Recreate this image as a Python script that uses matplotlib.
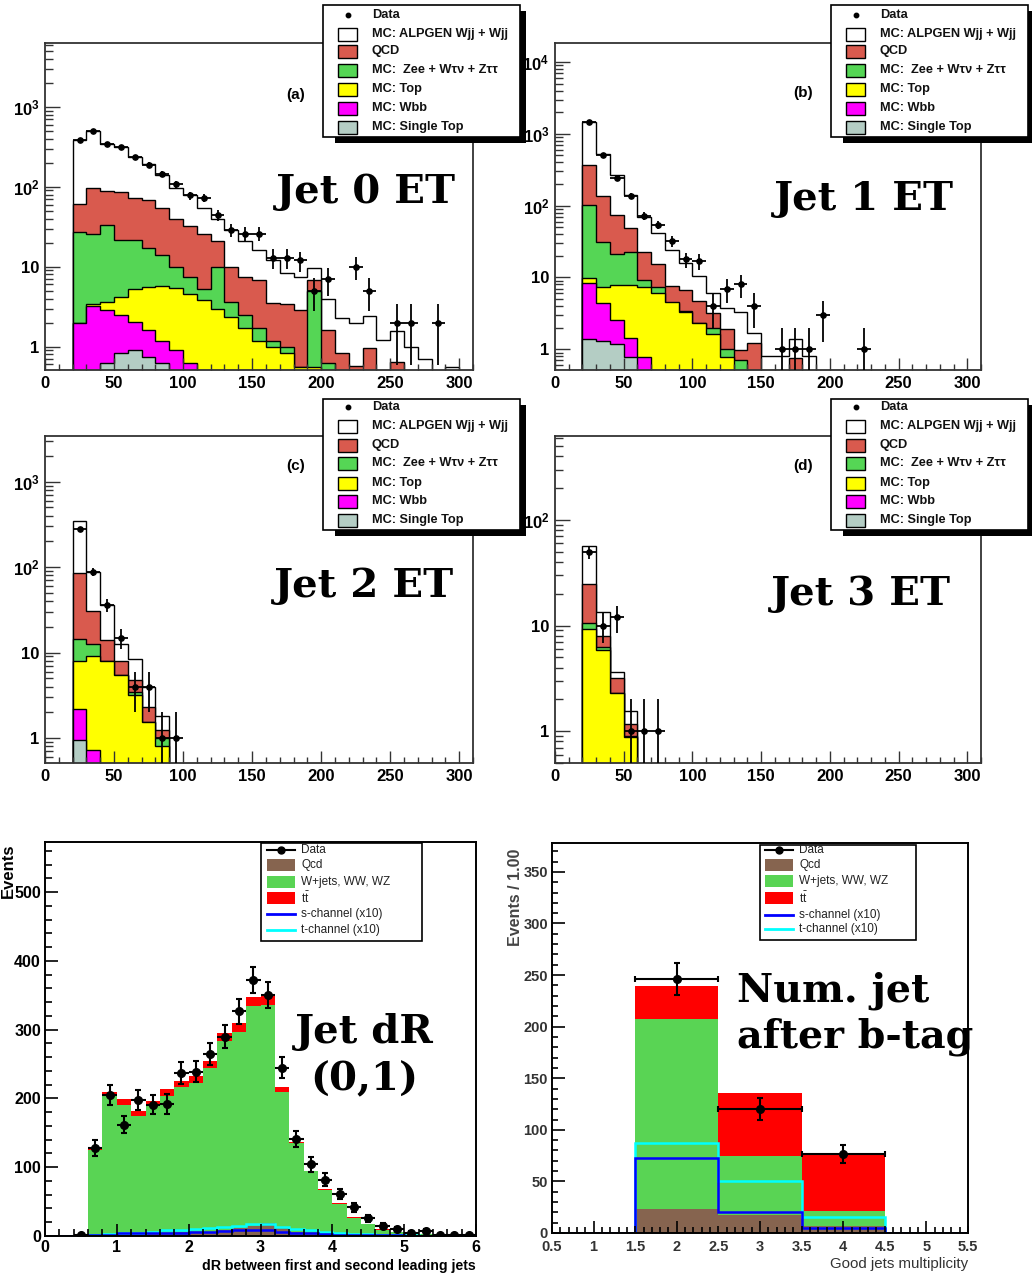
import numpy as np
import matplotlib
matplotlib.use("Agg")
import matplotlib.pyplot as plt
from matplotlib.patches import Rectangle
from matplotlib.ticker import FixedLocator, MultipleLocator, NullFormatter, FuncFormatter

plt.rcParams['font.family'] = ['Liberation Sans', 'DejaVu Sans']
plt.rcParams['mathtext.default'] = 'regular'
NARROW = ['Liberation Sans', 'DejaVu Sans']

# ------------------------------------------------------------------ data
et_edges = np.arange(20, 301, 10)          # Jet ET binning (GeV), 28 bins

# Panel (a) Jet 0 ET  -- stacked (cumulative) levels read per bin
a_alpgen = [383, 500, 340, 316, 237, 192, 140, 97, 79, 54, 40, 29, 21, 16, 12, 8.3, 7.5, 9.5,
            4.0, 2.3, 2.0, 2.4, 1.2, 1.55, 1.0, 0.71, 0, 0.56]
a_qcd = [61, 97, 88, 87, 72, 68, 54, 40, 32, 26, 21, 10, 7.5, 6.8, 3.5, 3.4, 2.9, 6.8,
         1.6, 0.83, 0.57, 0.95, 0, 0.65]
a_zll = [27.4, 26, 33, 21.5, 21.5, 17, 14, 10, 7.5, 5.2, 10, 3.65, 2.5, 1.7, 1.19, 0.98, 0.56, 4.9, 0.62]
a_top = [2.0, 3.4, 3.65, 4.2, 5.2, 5.5, 5.7, 5.35, 4.6, 3.8, 3.0, 2.37, 1.7, 1.19, 1.0, 0.83, 0.55, 0.56]
a_wbb = [2.0, 3.2, 2.9, 2.5, 2.05, 1.6, 1.19, 0.91, 0.63]
a_stop = [0, 0.4, 0.62, 0.84, 0.91, 0.75, 0.62]
a_data = [380, 500, 343, 316, 237, 190, 144, 107, 78, 73, 44, 29, 26, 26, 13, 13, 12, 5, 7, 0,
          10, 5, 0, 2, 2, 0, 2]

# Panel (b) Jet 1 ET
b_alpgen = [1466, 521, 266, 140, 70, 42, 24, 15.7, 10.5, 6.1, 3.7, 3.3, 1.7, 0.81, 0.81, 1.38, 0.81]
b_qcd = [370, 137, 74, 49, 22.8, 15.2, 7.6, 6.8, 4.7, 3.17, 1.9, 0.98, 1.21, 0, 0, 0.75]
b_zll = [102, 31.4, 21.2, 22.8, 9.2, 7.3, 4.46, 3.41, 2.3, 1.96, 1.0, 0.71]
b_top = [9.7, 7.4, 7.85, 7.85, 7.3, 6.1, 4.6, 3.34, 2.35, 1.62, 0.79]
b_wbb = [8.3, 4.36, 2.56, 1.42, 0.79]
b_stop = [1.38, 1.32, 1.19, 0.77]
b_data = [1450, 505, 239, 137, 72, 54, 32, 18, 17, 4, 7, 8, 4, 0, 1, 1, 1, 3, 0, 0, 1]

# Panel (c) Jet 2 ET
c_alpgen = [346, 88, 36, 12.7, 8.5, 4.0, 1.79]
c_qcd = [86, 30.5, 14.2, 7.9, 4.74, 2.3, 1.23]
c_zll = [14.6, 12.5, 8.0, 5.4, 3.46, 1.54, 1.0]
c_top = [8.0, 9.1, 7.9, 5.4, 3.16, 1.54, 0.8]
c_wbb = [2.2, 0.73]
c_stop = [0.96]
c_data = [276, 88, 36, 15, 4, 4, 1, 1]

# Panel (d) Jet 3 ET
d_alpgen = [57, 13.5, 3.65, 1.55]
d_qcd = [25, 7.95, 3.16, 1.16]
d_zll = [10.5, 6.3, 2.3, 0.9]
d_top = [9.2, 5.86, 2.28, 0.88]
d_wbb = [0]
d_stop = [0]
d_data = [50, 10, 12, 1, 1, 1]

top_labels = ["Data", "MC: ALPGEN Wjj + Wjj", "QCD", "MC:  Zee + W\u03c4\u03bd + Z\u03c4\u03c4",
              "MC: Top", "MC: Wbb", "MC: Single Top"]

# dR between first and second leading jets (0 - 6, 30 bins) -- stacked levels
dr_edges = np.round(np.arange(0, 6.01, 0.2), 2)
dr_ttbar = [0, 0, 0, 129, 210, 199, 182, 197, 214, 225, 233, 254, 295, 310, 347, 351, 217, 137,
            95, 68, 48, 27, 18, 9.7, 6.3, 3.9, 2.9, 1.5, 1, 0.5]
dr_wjets = [0, 0, 0, 125, 204, 191, 175, 189, 204, 217, 223, 244, 283, 297, 334, 336, 210, 135,
            94, 67, 47, 26, 17.5, 8.7, 5.8, 3.4, 2.5, 1.2, 0.8, 0.4]
dr_qcd = [0, 0, 0, 1, 2, 3, 3, 4, 5, 6, 5, 6, 8, 12, 14, 19, 11, 6, 4, 3, 2, 1, 1, 0.5, 0.5,
          0, 0, 0, 0, 0]
dr_schan = [0, 0, 0, 1, 2, 4, 4, 4, 5, 5, 6, 6, 7, 8, 9, 9, 6, 5, 4, 3, 2, 2, 1, 1, 1, 0.5,
            0, 0, 0, 0]
dr_tchan = [0, 0, 0, 2, 3, 5, 5, 6, 8, 9, 10, 11.5, 13, 15, 17, 17, 13, 10, 8, 6, 4, 3, 2.5,
            2, 1.5, 1, 0.5, 0, 0, 0]
dr_data = [0, 0, 1, 128, 205, 162, 198, 191, 192, 237, 239, 265, 290, 327, 372, 350, 245, 141,
           104, 82, 61, 42, 26, 15, 10, 5, 7, 1, 1, 1]

# Good jets multiplicity after b-tag
nj_edges = [0.5, 1.5, 2.5, 3.5, 4.5, 5.5]
nj_ttbar = [0, 239, 136, 78, 0]
nj_wjets = [0, 207, 75, 21, 0]
nj_qcd = [0, 23, 17.7, 7, 0]
nj_schan = [0, 72.6, 20.3, 4.8, 0]
nj_tchan = [0, 87.7, 50.6, 15.2, 0]
nj_data = [0, 246, 120, 77, 0]

bottom_labels = ["Data", "Qcd", "W+jets, WW, WZ", r"$t\bar{t}$", "s-channel (x10)", "t-channel (x10)"]

# ------------------------------------------------------------------ style
QCD_C, ZLL_C, TOP_C, WBB_C, STOP_C = '#d95a4e', '#55d655', '#ffff00', '#ff00ff', '#b4cdc4'
QCD_B, W_B, TT_B = '#86644f', '#59d454', '#ff0000'
FRAME = '#333333'

W, H = 1032, 1274
fig = plt.figure(figsize=(W / 100, H / 100), dpi=100)


def pax(x0, y0, x1, y1):
    return fig.add_axes([x0 / W, 1 - y1 / H, (x1 - x0) / W, (y1 - y0) / H])


def full(v, n=len(et_edges) - 1):
    out = np.zeros(n)
    out[:len(v)] = v
    return out


def log_label(v, pos):
    e = int(round(np.log10(v)))
    if e == 0:
        return '1'
    if e == 1:
        return '10'
    return r'$10^{%d}$' % e


def et_panel(rect, ylim, decades, layers, data):
    ax = pax(*rect)
    ax.set_yscale('log')
    cols = ['white', QCD_C, ZLL_C, TOP_C, WBB_C, STOP_C]
    for vals, col in zip(layers, cols):
        v = full(vals)
        v = np.where(v > 0, v, 1e-3)
        ax.stairs(v, et_edges, baseline=1e-3, fill=True, facecolor=col,
                  edgecolor='black', linewidth=1.0)
    d = full(data)
    cen = 0.5 * (et_edges[:-1] + et_edges[1:])
    m = d > 0
    err = np.sqrt(d[m])
    lo = d[m] - np.maximum(d[m] - err, 1e-3)
    ax.errorbar(cen[m], d[m], yerr=[lo, err], xerr=5, fmt='o', ms=3.8, color='black',
                elinewidth=1.3, capsize=0, zorder=5)
    ax.set_xlim(0, 310)
    ax.set_ylim(*ylim)
    ax.xaxis.set_major_locator(FixedLocator(np.arange(0, 301, 50)))
    ax.xaxis.set_minor_locator(MultipleLocator(10))
    ax.xaxis.set_major_formatter(FuncFormatter(lambda v, p: '%d' % v))
    ax.yaxis.set_major_locator(FixedLocator(decades))
    ax.yaxis.set_minor_locator(FixedLocator([m_ * 10.0 ** e for e in range(-1, 5) for m_ in range(2, 10)]))
    ax.yaxis.set_minor_formatter(NullFormatter())
    ax.yaxis.set_major_formatter(FuncFormatter(log_label))
    ax.tick_params(which='both', direction='in', top=False, right=False, color=FRAME, width=1.0)
    ax.tick_params(axis='x', which='major', length=9, pad=4)
    ax.tick_params(axis='x', which='minor', length=4)
    ax.tick_params(axis='y', which='major', length=11, pad=4)
    ax.tick_params(axis='y', which='minor', length=6)
    for lab in ax.get_xticklabels() + ax.get_yticklabels():
        lab.set_fontsize(12)
        lab.set_fontweight('bold')
    for s in ax.spines.values():
        s.set_color(FRAME)
        s.set_linewidth(1.3)
    return ax


et_panel((45, 43, 473, 370), (0.51, 6300), [1, 10, 100, 1000],
         [a_alpgen, a_qcd, a_zll, a_top, a_wbb, a_stop], a_data)
et_panel((555, 43, 981, 370), (0.515, 18400), [1, 10, 100, 1000, 10000],
         [b_alpgen, b_qcd, b_zll, b_top, b_wbb, b_stop], b_data)
et_panel((45, 436, 473, 763), (0.51, 3430), [1, 10, 100, 1000],
         [c_alpgen, c_qcd, c_zll, c_top, c_wbb, c_stop], c_data)
et_panel((555, 436, 981, 763), (0.5, 625), [1, 10, 100],
         [d_alpgen, d_qcd, d_zll, d_top, d_wbb, d_stop], d_data)


def stack_panel(ax, edges, tt, wj, qcd, sch, tch, data, xerr):
    ax.stairs(tt, edges, fill=True, color=TT_B, linewidth=0)
    ax.stairs(wj, edges, fill=True, color=W_B, linewidth=0)
    ax.stairs(qcd, edges, fill=True, color=QCD_B, linewidth=0)
    ax.stairs(tch, edges, color='#00ffff', linewidth=1.8)
    ax.stairs(sch, edges, color='#0000ff', linewidth=1.8)
    e = np.asarray(edges, float)
    cen = 0.5 * (e[:-1] + e[1:])
    d = np.asarray(data, float)
    m = d > 0
    ax.errorbar(cen[m], d[m], yerr=np.sqrt(d[m]), fmt='none', ecolor='black', elinewidth=1.5,
                capsize=2.5, capthick=1.5, zorder=5)
    ax.errorbar(cen[m], d[m], xerr=xerr, fmt='o', ms=5.5, color='black', elinewidth=1.5,
                capsize=(2.5 if xerr > 0.3 else 0), capthick=1.5, zorder=6)
    for s in ax.spines.values():
        s.set_color('black')
        s.set_linewidth(1.4)
    ax.tick_params(which='both', direction='in', top=False, right=False, width=1.2)


# ---- dR panel
axd = pax(45, 842, 476, 1236)
stack_panel(axd, dr_edges, dr_ttbar, dr_wjets, dr_qcd, dr_schan, dr_tchan, dr_data, 0.1)
axd.set_xlim(0, 6)
axd.set_ylim(0, 573)
axd.xaxis.set_major_locator(MultipleLocator(1))
axd.xaxis.set_minor_locator(MultipleLocator(0.2))
axd.yaxis.set_major_locator(MultipleLocator(100))
axd.yaxis.set_minor_locator(MultipleLocator(20))
axd.tick_params(which='major', length=9, pad=3)
axd.tick_params(which='minor', length=5)
for lab in axd.get_xticklabels() + axd.get_yticklabels():
    lab.set_family(NARROW)
    lab.set_fontweight('bold')
    lab.set_fontsize(11.5)

# ---- jet multiplicity panel
axn = pax(552, 843, 968, 1233)
stack_panel(axn, nj_edges, nj_ttbar, nj_wjets, nj_qcd, nj_schan, nj_tchan, nj_data, 0.5)
axn.set_xlim(0.5, 5.5)
axn.set_ylim(0, 378)
axn.xaxis.set_major_locator(MultipleLocator(0.5))
axn.xaxis.set_minor_locator(MultipleLocator(0.1))
axn.xaxis.set_major_formatter(FuncFormatter(lambda v, p: ('%g' % v)))
axn.yaxis.set_major_locator(MultipleLocator(50))
axn.yaxis.set_minor_locator(MultipleLocator(10))
axn.tick_params(which='major', length=5, pad=3)
axn.tick_params(which='minor', length=4)
axn.tick_params(axis='x', which='major', pad=5)
axn.tick_params(axis='y', which='major', length=9)
for t, loc in zip(axn.xaxis.get_major_ticks(), axn.get_xticks()):
    if abs(loc - round(loc)) < 1e-6:
        t.tick1line.set_markersize(9)
for lab in axn.get_xticklabels() + axn.get_yticklabels():
    lab.set_family(NARROW)
    lab.set_fontweight('bold')
    lab.set_fontsize(10.5)
    lab.set_color('#333333')

# ------------------------------------------------------------------ overlay (legends, texts)
ov = fig.add_axes([0, 0, 1, 1], zorder=20)
ov.set_xlim(0, W)
ov.set_ylim(H, 0)
ov.axis('off')

top_cols = [None, 'white', QCD_C, ZLL_C, TOP_C, WBB_C, STOP_C]


def top_legend(x0, y0, x1, y1, rows, sx, tx):
    ov.add_patch(Rectangle((x0 + 12, y0 + 6), (x1 + 6) - (x0 + 12), y1 - y0, fc='black', ec='none'))
    ov.add_patch(Rectangle((x0, y0), x1 - x0, y1 - y0, fc='white', ec='black', lw=1.2))
    for r, lab, col in zip(rows, top_labels, top_cols):
        if col is None:
            ov.plot([sx + 9.5], [r], 'o', color='black', ms=3.2)
        else:
            ov.add_patch(Rectangle((sx, r - 6.5), 19, 13, fc=col, ec='black', lw=1.0))
        ov.text(tx, r, lab, fontsize=9.2, fontweight='bold', va='center', ha='left',
                color='#111111')


rows_ab = [15, 34, 51, 70, 89, 108, 127]
rows_cd = [407, 426, 445, 463, 483, 501, 520]
top_legend(323, 5, 520, 137, rows_ab, 338, 372)
top_legend(831, 5, 1028, 137, rows_ab, 846, 880)
top_legend(323, 399, 520, 530, rows_cd, 338, 372)
top_legend(831, 399, 1028, 530, rows_cd, 846, 880)

for x, y, s in [(296, 95, '(a)'), (803, 93, '(b)'), (296, 466, '(c)'), (803, 466, '(d)')]:
    ov.text(x, y, s, fontsize=11, fontweight='bold', ha='center', va='center')


def bottom_legend(x0, y0, x1, y1, rows, sx0, sx1, tx):
    ov.add_patch(Rectangle((x0, y0), x1 - x0, y1 - y0, fc='white', ec='black', lw=1.2))
    ov.plot([sx0, sx1], [rows[0]] * 2, color='black', lw=1.5)
    ov.plot([(sx0 + sx1) / 2], [rows[0]], 'o', color='black', ms=5)
    for r, c in zip(rows[1:4], [QCD_B, W_B, TT_B]):
        ov.add_patch(Rectangle((sx0, r - 6), sx1 - sx0, 12, fc=c, ec='none'))
    ov.plot([sx0, sx1], [rows[4]] * 2, color='#0000ff', lw=2)
    ov.plot([sx0, sx1], [rows[5]] * 2, color='#00ffff', lw=2)
    for r, lab in zip(rows, bottom_labels):
        ov.text(tx, r, lab, fontsize=8.5, family=NARROW, va='center', ha='left', color='#222222')


bottom_legend(261, 843, 422, 941, [850, 865, 882, 898, 914, 930], 267, 295, 301)
bottom_legend(760, 845, 916, 940, [850, 865, 881, 898, 915, 929], 765, 793, 799)

BIG = dict(family='DejaVu Serif', fontweight='bold', fontsize=29, color='black')
ov.text(366, 203, 'Jet 0 ET', ha='center', va='baseline', **BIG)
ov.text(864, 210, 'Jet 1 ET', ha='center', va='baseline', **BIG)
ov.text(364, 597, 'Jet 2 ET', ha='center', va='baseline', **BIG)
ov.text(861, 605, 'Jet 3 ET', ha='center', va='baseline', **BIG)
ov.text(364, 1043, 'Jet dR', ha='center', va='baseline', **BIG)
ov.text(364, 1090, '(0,1)', ha='center', va='baseline', **BIG)
BIG2 = dict(BIG, fontsize=28.5)
ov.text(737, 1002, 'Num. jet', ha='left', va='baseline', **BIG2)
ov.text(737, 1048, 'after b-tag', ha='left', va='baseline', **BIG2)

ov.text(8, 843, 'Events', rotation=90, ha='center', va='top', fontsize=12,
        fontweight='bold', family=NARROW)
ov.text(476, 1266, 'dR between first and second leading jets', ha='right', va='center',
        fontsize=10.2, fontweight='bold', family=NARROW)
ov.text(515, 849, 'Events / 1.00', rotation=90, ha='center', va='top', fontsize=11.5,
        fontweight='bold', family=NARROW, color='#444444')
ov.text(968, 1264, 'Good jets multiplicity', ha='right', va='center', fontsize=10.8,
        family=NARROW, color='#333333')

fig.savefig('out.png', dpi=100)
